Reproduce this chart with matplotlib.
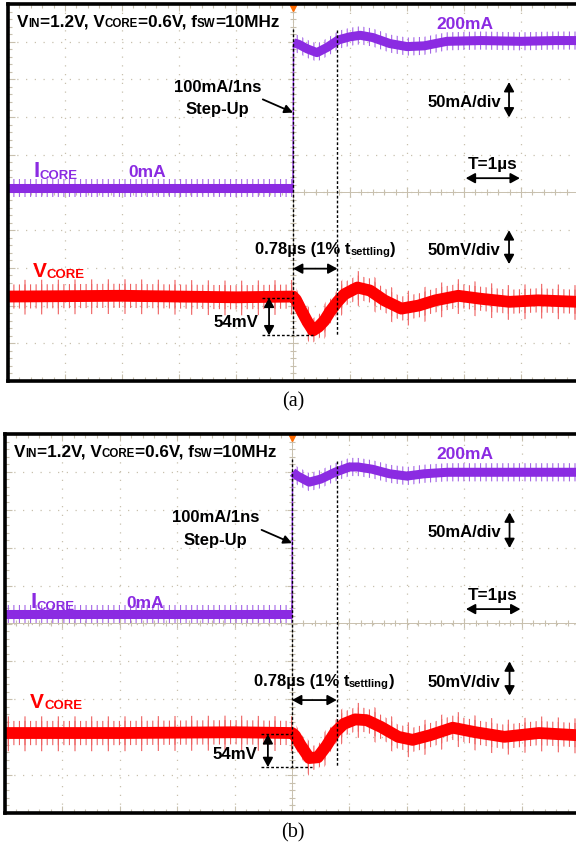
import numpy as np
import matplotlib
matplotlib.use("Agg")
import matplotlib.pyplot as plt
from matplotlib.ticker import MultipleLocator

# --- scope captures ---
# time in us from the load step, I_CORE in mA, V_CORE as deviation from 0.6 V in mV

# (a)
t_icore_a = [-5.0, -2.5, 0.0, 0.01, 0.1, 0.25, 0.42, 0.6, 0.8, 1.0, 1.18, 1.4, 1.7,
             2.0, 2.3, 2.7, 3.3, 4.0, 4.6, 5.0]
icore_a = [0, 0, 0, 192, 190, 184, 179, 186, 196, 200, 202, 199, 191,
           187, 188, 194, 195, 194, 195, 195]
t_vcore_a = [-5.0, -3.0, -1.0, 0.0, 0.05, 0.15, 0.25, 0.35, 0.45, 0.55, 0.65, 0.78,
             0.9, 1.13, 1.35, 1.6, 1.9, 2.2, 2.5, 2.9, 3.3, 3.8, 4.3, 5.0]
vcore_a = [0, 1, -1, 0, -4, -19, -33, -45, -40, -32, -20, -7,
           3, 12, 8, -5, -16, -12, -5, 1, -3, -7, -5, -7]

# (b)
t_icore_b = [-5.0, -2.5, 0.0, 0.01, 0.1, 0.3, 0.5, 0.75, 1.0, 1.15, 1.4, 1.7,
             2.0, 2.3, 2.7, 3.3, 4.0, 4.6, 5.0]
icore_b = [0, 0, 0, 187, 182, 174, 178, 187, 194, 194, 191, 185,
           182, 185, 187, 187, 187, 187, 187]
t_vcore_b = [-5.0, -3.0, -1.0, 0.0, 0.05, 0.15, 0.3, 0.45, 0.6, 0.75, 0.9, 1.1,
             1.3, 1.55, 1.85, 2.1, 2.4, 2.8, 3.2, 3.7, 4.3, 5.0]
vcore_b = [0, 0, 1, 0, -3, -16, -33, -32, -17, 1, 12, 18,
           17, 8, -5, -9, -3, 7, 1, -5, 0, -3]

# channel settings
ma_per_div = 50
mv_per_div = 50
settling_us = 0.78

W, H = 576, 847
GRID = '#c8c0ae'
PURPLE = '#8B2BE2'
PURPLE_LT = '#a466e6'
RED = '#ff0000'
RED_LT = '#ee6060'

plt.rcParams['font.family'] = ['Liberation Sans', 'DejaVu Sans']
plt.rcParams['font.weight'] = 'bold'
plt.rcParams['hatch.linewidth'] = 0.8

fig = plt.figure(figsize=(W / 100, H / 100), dpi=100)


def px_rect(left, top, right, bottom):
    return [left / W, 1 - bottom / H, (right - left) / W, (bottom - top) / H]


def rich(a, x, y, parts, color):
    # pieces of text laid one after another, small ones sitting on the same line
    prev = a.text(x, y, parts[0][0], fontsize=parts[0][1], color=color,
                  ha='left', va='baseline')
    for s, fs in parts[1:]:
        prev = a.annotate(s, xy=(1, 0), xycoords=prev, fontsize=fs, color=color,
                          ha='left', va='bottom')


def arrow(a, p0, p1, style):
    a.annotate('', xy=p1, xytext=p0,
               arrowprops=dict(arrowstyle=style, color='k', lw=1.3, shrinkA=0,
                               shrinkB=0, mutation_scale=10))


def panel(rect, t_i, i_ma, i_pos, t_v, v_mv, v_pos, m54):
    ax = fig.add_axes(rect)
    ax.set_xlim(-5, 5)
    ax.set_ylim(-5, 5)
    for axis in (ax.xaxis, ax.yaxis):
        axis.set_major_locator(MultipleLocator(1))
        axis.set_minor_locator(MultipleLocator(0.2))
    ax.grid(True, which='major', color=GRID, linestyle=(0, (1, 6)), linewidth=0.9)
    ax.tick_params(which='both', direction='in', top=True, right=True,
                   labelbottom=False, labelleft=False, color=GRID, width=0.8)
    ax.tick_params(which='major', length=5)
    ax.tick_params(which='minor', length=3)
    for sp in ax.spines.values():
        sp.set_visible(False)

    # centre cross of the graticule
    sx = ax.secondary_xaxis(0.5)
    sy = ax.secondary_yaxis(0.5)
    for sec, axis in ((sx, sx.xaxis), (sy, sy.yaxis)):
        axis.set_major_locator(MultipleLocator(1))
        axis.set_minor_locator(MultipleLocator(0.2))
        sec.tick_params(which='both', direction='inout', color=GRID, width=0.8,
                        labelbottom=False, labeltop=False, labelleft=False,
                        labelright=False)
        sec.tick_params(which='major', length=7)
        sec.tick_params(which='minor', length=5)
        for sp in sec.spines.values():
            sp.set_color(GRID)
            sp.set_linewidth(0.7)

    # I_CORE channel
    axi = ax.twinx()
    axi.set_ylim((-5 - i_pos) * ma_per_div, (5 - i_pos) * ma_per_div)
    axi.axis('off')
    t = np.array(t_i)
    i = np.array(i_ma, dtype=float)
    axi.plot(t, i, color=PURPLE, lw=1.0)
    for m in (t <= 0, t > 0):
        axi.fill_between(t[m], i[m] - 12, i[m] + 12, hatch='|||', facecolor='none',
                         edgecolor=PURPLE_LT, linewidth=0)
        axi.plot(t[m], i[m], color=PURPLE, lw=6.5, solid_capstyle='butt',
                 solid_joinstyle='round')

    # V_CORE channel
    axv = ax.twinx()
    axv.set_ylim((-5 - v_pos) * mv_per_div, (5 - v_pos) * mv_per_div)
    axv.axis('off')
    t = np.array(t_v)
    v = np.array(v_mv, dtype=float)
    axv.fill_between(t, v - 24, v + 22, hatch='|', facecolor='none',
                     edgecolor=RED_LT, linewidth=0)
    axv.fill_between(t, v - 16, v + 16, hatch='|||', facecolor='none',
                     edgecolor=RED_LT, linewidth=0)
    axv.plot(t, v, color=RED, lw=8.5, solid_joinstyle='round')

    # annotations and frame, in divisions
    an = ax.twinx()
    an.set_ylim(-5, 5)
    an.yaxis.set_visible(False)
    for sp in an.spines.values():
        sp.set_color('k')
        sp.set_linewidth(2.6)
    an.plot(0, 4.9, marker='v', color='#ff6a00', ms=5, clip_on=False)

    dot = (0, (2, 1.5))
    an.plot([0, 0], [4.35, m54[1]], color='k', lw=1, ls=dot)
    an.plot([settling_us, settling_us], [4.3, m54[1]], color='k', lw=1, ls=dot)
    an.plot([-0.54, 0], [m54[0], m54[0]], color='k', lw=1, ls=dot)
    an.plot([-0.54, 0.35], [m54[1], m54[1]], color='k', lw=1, ls=dot)

    rich(an, -4.84, 4.40, [('V', 12.3), ('IN', 8.3), ('=1.2V, V', 12.3),
                           ('CORE', 8.3), ('=0.6V, f', 12.3), ('SW', 8.3),
                           ('=10MHz', 12.3)], 'k')
    an.text(-1.33, 2.79, '100mA/1ns', fontsize=12, ha='center', va='center')
    an.text(-1.33, 2.20, 'Step-Up', fontsize=12, ha='center', va='center')
    arrow(an, (-0.53, 2.47), (0, 2.12), '-|>,head_length=0.5,head_width=0.25')

    rich(an, -4.56, 0.42, [('I', 16), ('CORE', 9.5)], PURPLE)
    an.text(-2.56, 0.42, '0mA', fontsize=12.5, color=PURPLE, ha='center', va='baseline')
    an.text(3.02, 4.46, '200mA', fontsize=12.5, color=PURPLE, ha='center', va='center')

    an.text(3.0, 2.39, '50mA/div', fontsize=12, ha='center', va='center')
    arrow(an, (3.79, 2.93), (3.79, 1.99), '<|-|>,head_length=0.55,head_width=0.3')
    an.text(3.5, 0.75, 'T=1µs', fontsize=12.3, ha='center', va='center')
    arrow(an, (3.03, 0.38), (3.98, 0.38), '<|-|>,head_length=0.55,head_width=0.3')

    rich(an, -0.67, -1.64, [('0.78µs (1% t', 12), ('settling', 8), (')', 12)], 'k')
    arrow(an, (0, -2.02), (settling_us, -2.02), '<|-|>,head_length=0.55,head_width=0.3')
    an.text(3.0, -1.55, '50mV/div', fontsize=12, ha='center', va='center')
    arrow(an, (3.79, -1.0), (3.79, -1.9), '<|-|>,head_length=0.55,head_width=0.3')

    rich(an, -4.56, -2.23, [('V', 15), ('CORE', 9.5)], RED)
    an.text(-0.60, -3.45, '54mV', fontsize=12.2, ha='right', va='center')
    arrow(an, (-0.42, m54[0]), (-0.42, m54[1]), '<|-|>,head_length=0.55,head_width=0.3')


panel(px_rect(8, 4, 578, 381), t_icore_a, icore_a, 0.13, t_vcore_a, vcore_a, -2.76,
      (-2.79, -3.79))
panel(px_rect(5, 434, 579, 813), t_icore_b, icore_b, 0.25, t_vcore_b, vcore_b, -2.89,
      (-2.92, -3.79))

for lab, yc in (('(a)', 402), ('(b)', 833)):
    fig.text(293 / W, 1 - yc / H, lab, family='Liberation Serif', weight='normal',
             fontsize=14.5, ha='center', va='center')

fig.savefig('out.png', dpi=100)
